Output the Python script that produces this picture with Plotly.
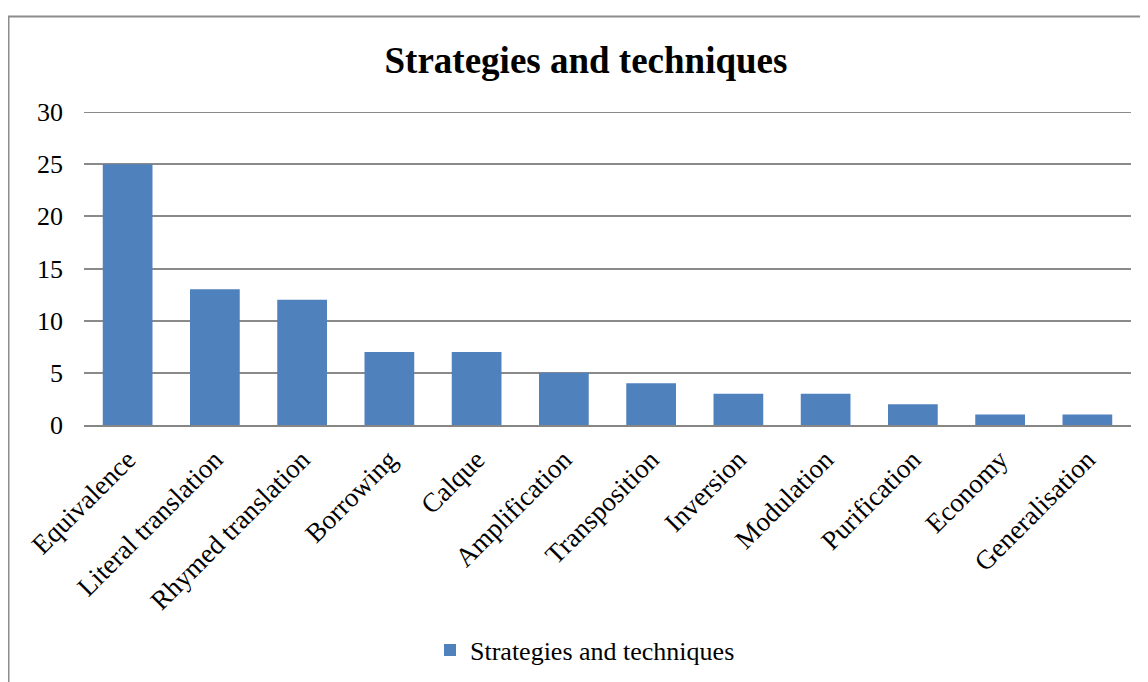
import plotly.graph_objects as go

categories = ["Equivalence", "Literal translation", "Rhymed translation", "Borrowing", "Calque",
              "Amplification", "Transposition", "Inversion", "Modulation", "Purification",
              "Economy", "Generalisation"]
values = [25, 13, 12, 7, 7, 5, 4, 3, 3, 2, 1, 1]
series_name = "Strategies and techniques"
y_ticks = [0, 5, 10, 15, 20, 25, 30]

# page has an 8px body margin; work in figure coordinates (reference - 8)
OFF = 8
W, H = 1148, 682
L, R, T, B = 84 - OFF, 17 + OFF, 112 - OFF, 257 + OFF
pw, ph = W - L - R, H - T - B
SERIF = "Liberation Serif"
GRID = "#8a8a8a"

def px(x):
    return (x - OFF - L) / pw

def py(y):
    return (H - B - (y - OFF)) / ph

fig = go.Figure()
fig.add_trace(go.Bar(x=categories, y=values, name=series_name,
                     marker=dict(color="#4F81BD", line=dict(width=0)),
                     showlegend=True))

fig.update_layout(
    template="none",
    width=W, height=H,
    margin=dict(l=L, r=R, t=T, b=B, autoexpand=False),
    paper_bgcolor="white", plot_bgcolor="white",
    font=dict(family=SERIF, color="black", size=26),
    title=dict(text="<b>Strategies and techniques</b>", x=(586 - OFF) / W, xanchor="center",
               y=1 - (60 - OFF) / H, yanchor="middle", font=dict(family=SERIF, size=37)),
    bargap=0.43,
    showlegend=True,
    legend=dict(orientation="h", x=px(585), xanchor="center", y=py(650), yanchor="middle",
                font=dict(family="Times New Roman", size=26, color="black"), itemsizing="constant"),
    xaxis=dict(tickangle=-45, showgrid=False, showline=True, linecolor="#868686", linewidth=2,
               ticks="", tickfont=dict(family=SERIF, size=27), ticklabelstandoff=6, fixedrange=True),
    yaxis=dict(range=[0, 30], tickvals=y_ticks, showgrid=True, gridcolor=GRID, gridwidth=2,
               zeroline=False, showline=False, ticks="", tickfont=dict(family=SERIF, size=26),
               ticklabelstandoff=20, fixedrange=True),
    shapes=[dict(type="rect", xref="paper", yref="paper",
                 x0=px(8.5), x1=px(1170), y0=py(720), y1=py(16.5),
                 line=dict(color="#8c8c8c", width=2), fillcolor="rgba(0,0,0,0)", layer="below"),
            dict(type="line", xref="paper", yref="y", x0=0, x1=1, y0=y_ticks[-1], y1=y_ticks[-1],
                 line=dict(color=GRID, width=2), layer="below")],
)

fig.write_html("out.html")
